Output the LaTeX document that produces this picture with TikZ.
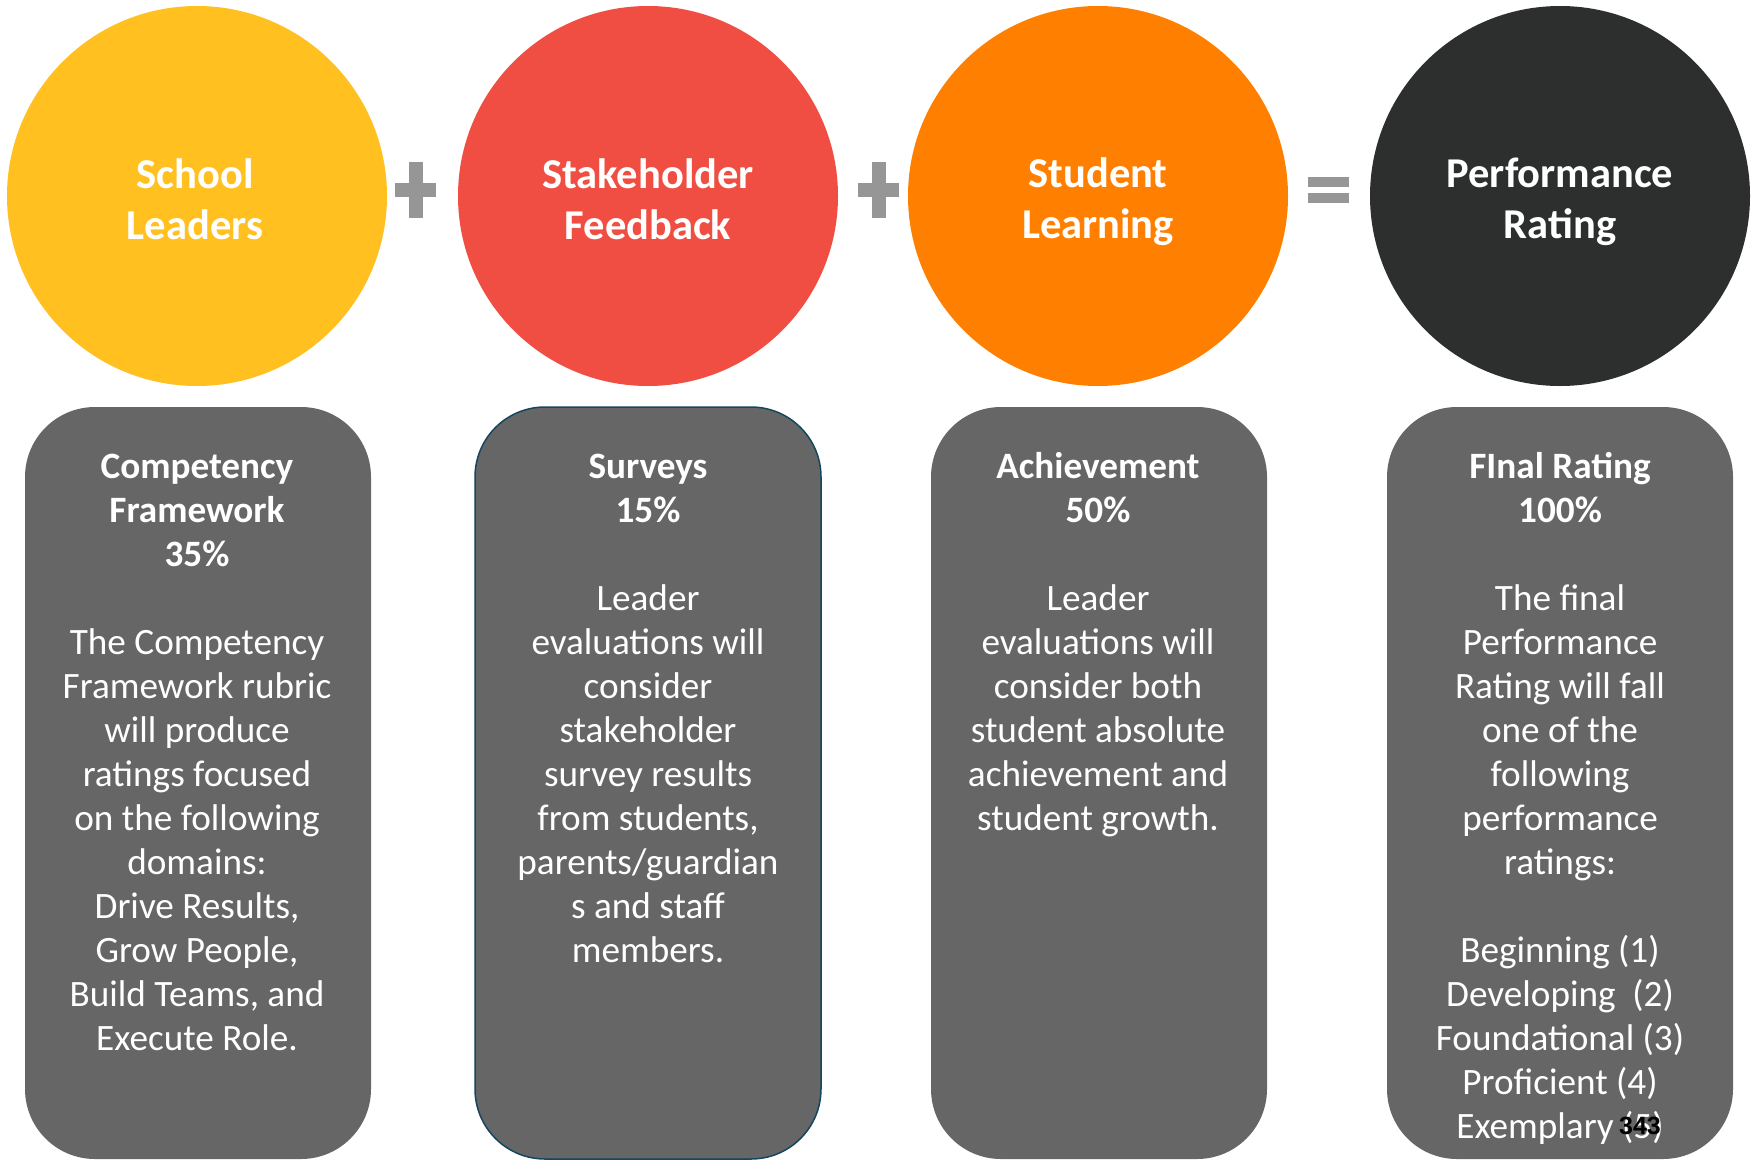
\documentclass[tikz,border=0pt]{standalone}
\usepackage{fontspec}
\setmainfont{Carlito}
\newfontfamily\arialfont{Liberation Sans}
\definecolor{cyellow}{RGB}{255,192,32}
\definecolor{cred}{RGB}{240,78,66}
\definecolor{corange}{RGB}{255,128,0}
\definecolor{cdark}{RGB}{45,47,46}
\definecolor{boxgray}{RGB}{102,102,102}
\definecolor{signgray}{RGB}{150,150,150}
\definecolor{tealline}{RGB}{20,70,95}
\begin{document}
\begin{tikzpicture}[x=1pt,y=-1pt,
  bigcircle/.style={circle,minimum size=380pt,inner sep=0pt,draw=none},
  circtext/.style={text=white,font=\fontsize{42.5}{51}\selectfont\bfseries,align=center},
  panel/.style={draw=none,fill=boxgray,rounded corners=70pt,minimum width=346pt,minimum height=752pt,inner sep=0pt},
  bodytext/.style={text=white,font=\fontsize{37.2}{44}\selectfont,align=center,inner sep=0pt,anchor=north},
  sign/.style={fill=signgray,draw=none}]
\useasboundingbox (0,0) rectangle (1754,1160);
% circles
\node[bigcircle,fill=cyellow] (c1) at (197,196) {};
\node[bigcircle,fill=cred] (c2) at (648,196) {};
\node[bigcircle,fill=corange] (c3) at (1098,196) {};
\node[bigcircle,fill=cdark] (c4) at (1560,196) {};
\node[circtext] (ct1) at (195,199) {School\\Leaders};
\node[circtext] (ct2) at (648,199) {Stakeholder\\Feedback};
\node[circtext] (ct3) at (1098,202) {Student\\Learning};
\node[circtext] (ct4) at (1560,202) {Performance\\Rating};
% signs
\fill[sign] (395,183) rectangle (436,197);
\fill[sign] (409,162) rectangle (423,218);
\fill[sign] (858,183) rectangle (899,197);
\fill[sign] (872,162) rectangle (886,218);
\fill[sign] (1308,177) rectangle (1349,187);
\fill[sign] (1308,193) rectangle (1349,203);
% panels
\node[panel] (b1) at (198,783) {};
\node[panel,draw=tealline,line width=1.5pt] (b2) at (648,783) {};
\node[panel,minimum width=336pt] (b3) at (1099,783) {};
\node[panel] (b4) at (1560,783) {};
% texts
\node[bodytext] (t1) at (197,454) {\textbf{Competency}\\\textbf{Framework}\\\textbf{35\%}\\[44pt]
The Competency\\Framework rubric\\will produce\\ratings focused\\on the following\\domains:\\Drive Results,\\Grow People,\\Build Teams, and\\Execute Role.};
\node[bodytext] (t2) at (648,454) {\textbf{Surveys}\\\textbf{15\%}\\[44pt]
Leader\\evaluations will\\consider\\stakeholder\\survey results\\from students,\\parents/guardian\\s and staff\\members.};
\node[bodytext] (t3) at (1098,452) {\textbf{Achievement}\\\textbf{50\%}\\[44pt]
Leader\\evaluations will\\consider both\\student absolute\\achievement and\\student growth.};
\node[bodytext] (t4) at (1560,452) {\textbf{FInal Rating}\\\textbf{100\%}\\[44pt]
The final\\Performance\\Rating will fall\\one of the\\following\\performance\\ratings:\\[44pt]
Beginning (1)\\Developing\ \ (2)\\Foundational (3)\\Proficient (4)\\Exemplary (5)};
\node[font=\arialfont\fontsize{25}{28}\selectfont\bfseries,text=black,inner sep=0pt] (pg) at (1640,1126) {343};
\end{tikzpicture}
\end{document}
